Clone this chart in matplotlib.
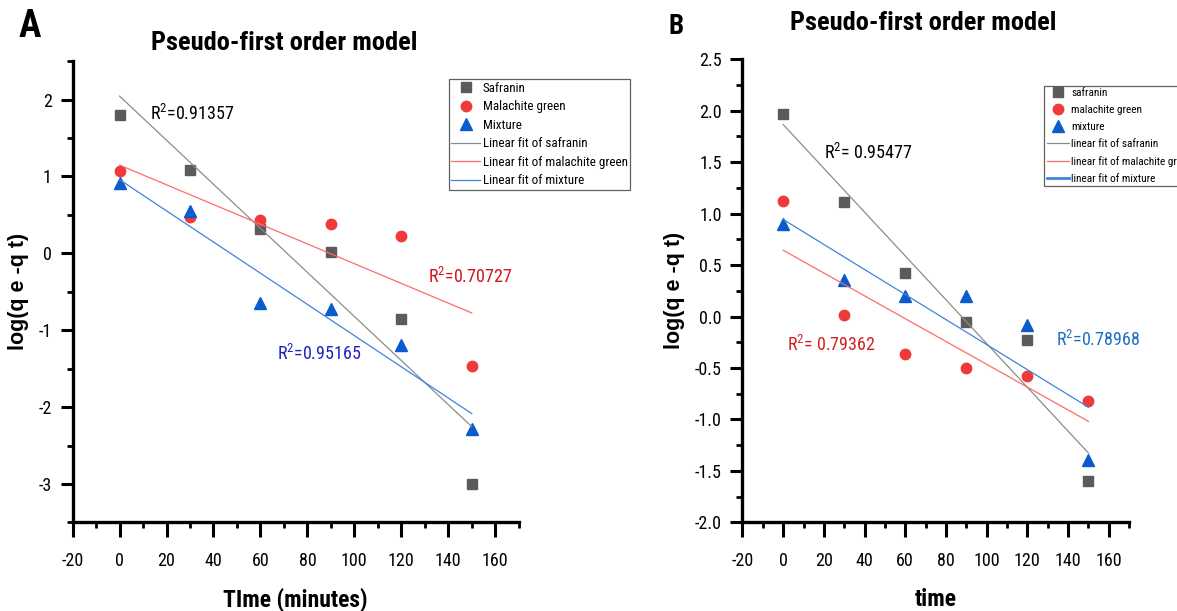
"""
Pseudo-first order kinetic model: log(qe-qt) vs time for safranin,
malachite green and their mixture, with least-squares linear fits.
"""

import matplotlib.pyplot as plt
import numpy as np
from matplotlib import font_manager
from matplotlib.ticker import MultipleLocator

# pick a narrow sans if one is installed
names = {f.name for f in font_manager.fontManager.ttflist}
cond = {f.name for f in font_manager.fontManager.ttflist if f.stretch in ('condensed', 'semi-condensed', 600, 700)}
fam, stretch, narrow = 'Liberation Sans', 'normal', False
for f in ['Liberation Sans Narrow', 'Arial Narrow', 'Roboto Condensed', 'Open Sans Condensed']:
    if f in names:
        fam, narrow = f, True
        break
else:
    for f in ['Liberation Sans', 'Roboto', 'Noto Sans', 'Open Sans']:
        if f in cond:
            fam, stretch, narrow = f, 'condensed', True
            break
plt.rcParams['font.family'] = [fam, 'DejaVu Sans']
plt.rcParams['font.stretch'] = stretch
plt.rcParams['axes.unicode_minus'] = False
k = 1.0 if narrow else 0.9

# Data given
t = [0, 30, 60, 90, 120, 150]

# panel A
a_safranin = [1.80, 1.08, 0.32, 0.02, -0.85, -3.00]
a_malachite = [1.07, 0.475, 0.43, 0.38, 0.22, -1.46]
a_mixture = [0.92, 0.55, -0.65, -0.73, -1.19, -2.28]
a_r2 = ['0.91357', '0.70727', '0.95165']

# panel B
b_safranin = [1.97, 1.11, 0.42, -0.05, -0.23, -1.60]
b_malachite = [1.12, 0.02, -0.36, -0.50, -0.58, -0.82]
b_mixture = [0.90, 0.36, 0.20, 0.20, -0.08, -1.39]
b_r2 = ['0.95477', '0.79362', '0.78968']

sq_c = '#5b5b5b'
ci_c = '#f03a3a'
tr_c = '#0a5ccc'
fit_gray = '#8c8c8c'
fit_red = '#ff6a6a'
fit_blue = '#3c84dc'

fig = plt.figure(figsize=(11.77, 6.11), dpi=100)
axA = fig.add_axes([0.0617, 0.145, 0.379, 0.755])
axB = fig.add_axes([0.6308, 0.145, 0.3285, 0.758])


def fit(x, y):
    m, b = np.polyfit(x, y, 1)
    xs = np.array([x[0], x[-1]])
    return xs, m * xs + b


def style(ax, ylim, ymaj, ymin, yfmt):
    ax.set_xlim(-20, 170)
    ax.set_ylim(*ylim)
    for s in ['top', 'right']:
        ax.spines[s].set_visible(False)
    for s in ['left', 'bottom']:
        ax.spines[s].set_linewidth(2.4)
    ax.xaxis.set_major_locator(MultipleLocator(20))
    ax.xaxis.set_minor_locator(MultipleLocator(10))
    ax.yaxis.set_major_locator(MultipleLocator(ymaj))
    ax.yaxis.set_minor_locator(MultipleLocator(ymin))
    ax.tick_params(which='major', width=2.2, labelsize=13 * k)
    ax.tick_params(axis='x', which='major', length=11, pad=10)
    ax.tick_params(axis='y', which='major', length=9, pad=6)
    ax.tick_params(which='minor', length=4.5, width=2.0)
    ax.yaxis.set_major_formatter(yfmt)
    ax.set_ylabel('log(q e -q t)', family=['Liberation Sans', 'DejaVu Sans'], stretch='normal',
                  fontsize=15.5, fontweight='bold', labelpad=7)


def legend(ax, x0, y0, fs, hl, sp):
    leg = ax.legend(loc='upper left', bbox_to_anchor=(x0, y0), fontsize=fs, frameon=True,
                    fancybox=False, edgecolor='#606060', framealpha=1, handlelength=hl,
                    borderpad=0.2, labelspacing=sp, handletextpad=0.2, borderaxespad=0)
    leg.get_frame().set_linewidth(0.9)
    return leg


R2 = '$\\mathregular{R^2}$='

# ---- panel A
axA.plot(t, a_safranin, 's', color=sq_c, ms=6.5, label='Safranin')
axA.plot(t, a_malachite, 'o', color=ci_c, ms=7.5, label='Malachite green')
axA.plot(t, a_mixture, '^', color=tr_c, ms=8.5, label='Mixture')
axA.plot(*fit(t, a_safranin), color=fit_gray, lw=0.9, label='Linear fit of safranin')
axA.plot(*fit(t, a_malachite), color=fit_red, lw=0.9, label='Linear fit of malachite green')
axA.plot(*fit(t, a_mixture), color=fit_blue, lw=0.9, label='Linear fit of mixture')
style(axA, (-3.5, 2.5), 1, 0.5, lambda v, p: '%d' % round(v))
axA.set_xlabel('TIme (minutes)', fontsize=17 * k, fontweight='bold', labelpad=13)
axA.set_title('Pseudo-first order model', fontsize=19 * k, fontweight='bold', pad=8, x=0.475)
axA.text(13, 1.81, R2 + a_r2[0], fontsize=13 * k, color='black', va='center')
axA.text(131.5, -0.31, R2 + a_r2[1], fontsize=13 * k, color='#d0141c', va='center')
axA.text(67, -1.31, R2 + a_r2[2], fontsize=13 * k, color='#1f22c0', va='center')
legend(axA, 0.843, 0.961, 9.4 * k, 2.2, 0.42)
fig.text(0.016, 0.956, 'A', fontsize=27, fontweight='bold', va='center')

# ---- panel B
axB.plot(t, b_safranin, 's', color=sq_c, ms=6.5, label='safranin')
axB.plot(t, b_malachite, 'o', color=ci_c, ms=7.5, label='malachite green')
axB.plot(t, b_mixture, '^', color=tr_c, ms=8.5, label='mixture')
axB.plot(*fit(t, b_safranin), color=fit_gray, lw=0.9, label='linear fit of safranin')
axB.plot(*fit(t, b_malachite), color=fit_red, lw=0.9, label='linear fit of malachite green')
axB.plot(*fit(t, b_mixture), color=fit_blue, lw=0.9, label='linear fit of mixture')
style(axB, (-2.0, 2.5), 0.5, 0.25, lambda v, p: '%.1f' % v)
axB.set_xlabel('time', fontsize=17 * k, fontweight='bold', labelpad=13)
axB.set_title('Pseudo-first order model', fontsize=19 * k, fontweight='bold', pad=21, x=0.467)
axB.text(20, 1.59, R2 + ' ' + b_r2[0], fontsize=13 * k, color='black', va='center')
axB.text(1.7, -0.28, R2 + ' ' + b_r2[1], fontsize=13 * k, color='#d42020', va='center')
axB.text(134, -0.23, R2 + b_r2[2], fontsize=13 * k, color='#1f6fc0', va='center')
legB = legend(axB, 0.781, 0.942, 8.1 * k, 2.0, 0.62)
legB.get_lines()[-1].set_linewidth(2.0)
fig.text(0.568, 0.956, 'B', fontsize=19.5, fontweight='bold', va='center')

fig.savefig('out.png', dpi=100)
